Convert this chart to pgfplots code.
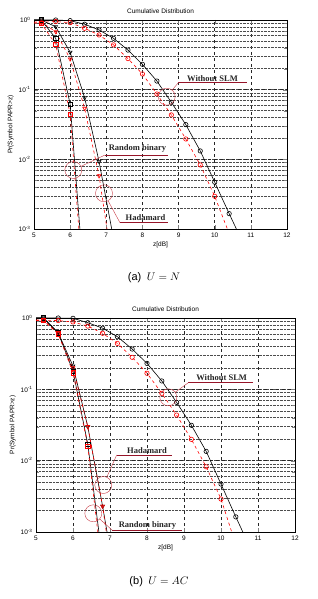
\documentclass[border=0pt]{standalone}
\usepackage{pgfplots}
\pgfplotsset{compat=1.18}
\usepackage{fontspec}
\setmainfont{Liberation Sans}
\newfontfamily\serifb{Liberation Serif}
\definecolor{annred}{RGB}{200,60,70}
\definecolor{ulred}{RGB}{150,20,40}
\tikzset{
  blkline/.style={black, solid, line width=0.6pt, mark size=2.2pt},
  redline/.style={red, dashed, line width=0.6pt, mark size=2.2pt},
}
\begin{document}
\begin{tikzpicture}
% ---------------- (a) U = N ----------------
\begin{axis}[width=253pt, height=209pt, scale only axis, at={(34pt,370pt)}, anchor=south west,
    ymode=log,
    xmin=5, xmax=12, ymin=1e-3, ymax=1,
    xtick={5,6,7,8,9,10,11,12},
    xticklabels={5,6,7,8,9,10,11,12},
    ytick={1e-3,1e-2,1e-1,1},
    yticklabels={{10\textsuperscript{-3}},{10\textsuperscript{-2}},{10\textsuperscript{-1}},{10\textsuperscript{0}}},
    grid=both,
    major grid style={dashed, black!85, line width=0.45pt},
    minor grid style={densely dotted, black!70, line width=0.45pt},
    tick align=inside,
    title={Cumulative Distribution},
    xlabel={z[dB]},
    ylabel={Pr(Symbol PAPR>z)},
    tick label style={font=\fontsize{6.5}{7}\selectfont},
    label style={font=\fontsize{6.5}{7}\selectfont},
    title style={font=\fontsize{6.5}{7}\selectfont, yshift=-3pt},
    xlabel style={yshift=2pt},
    ylabel style={yshift=-2pt}]
\addplot[blkline, mark=o, mark options={solid}, mark indices={2,3,4,5,6,7,8,9,10,11,12,13,14,15}] coordinates {
(5,1) (5.2,1) (5.6,1) (6.0,0.98) (6.4,0.87) (6.8,0.72) (7.2,0.546) (7.6,0.37) (8.0,0.231) (8.4,0.133) (8.8,0.066) (9.2,0.0315) (9.6,0.0132) (10.0,0.0047) (10.4,0.00166) (10.6,0.001)};
\addplot[redline, mark=o, mark options={solid}, mark indices={2,3,4,5,6,7,8,9,10,11,12,13,14}] coordinates {
(5,0.93) (5.2,0.93) (5.6,0.95) (6.0,0.915) (6.4,0.76) (6.8,0.61) (7.2,0.44) (7.6,0.279) (8.0,0.168) (8.4,0.0867) (8.8,0.0434) (9.2,0.0196) (9.6,0.0083) (10.0,0.00295) (10.35,0.001)};
\addplot[blkline, mark=triangle, mark options={solid, rotate=180}, mark indices={2,3,4,5,6}] coordinates {
(5,1) (5.2,1.0) (5.6,0.80) (6.0,0.344) (6.4,0.0768) (6.8,0.0093) (7.15,0.001)};
\addplot[redline, mark=triangle, mark options={solid, rotate=180}, mark indices={2,3,4,5,6}] coordinates {
(5,0.93) (5.2,0.93) (5.6,0.68) (6.0,0.276) (6.4,0.054) (6.8,0.0058) (7.02,0.001)};
\addplot[blkline, mark=square, mark options={solid}, mark indices={2,3,4}] coordinates {
(5,1) (5.2,1.0) (5.6,0.546) (6.0,0.062) (6.27,0.001)};
\addplot[redline, mark=square, mark options={solid}, mark indices={2,3,4}] coordinates {
(5,0.9) (5.2,0.9) (5.6,0.448) (6.0,0.0444) (6.24,0.001)};
\end{axis}
% ---------------- (b) U = AC ----------------
\begin{axis}[width=259pt, height=214pt, scale only axis, at={(36pt,67pt)}, anchor=south west,
    ymode=log,
    xmin=5, xmax=12, ymin=1e-3, ymax=1,
    xtick={5,6,7,8,9,10,11,12},
    xticklabels={5,6,7,8,9,10,11,12},
    ytick={1e-3,1e-2,1e-1,1},
    yticklabels={{10\textsuperscript{-3}},{10\textsuperscript{-2}},{10\textsuperscript{-1}},{10\textsuperscript{0}}},
    grid=both,
    major grid style={dashed, black!85, line width=0.45pt},
    minor grid style={densely dotted, black!70, line width=0.45pt},
    tick align=inside,
    title={Cumulative Distribution},
    xlabel={z[dB]},
    ylabel={Pr(Symbol PAPR>z)},
    tick label style={font=\fontsize{6.5}{7}\selectfont},
    label style={font=\fontsize{6.5}{7}\selectfont},
    title style={font=\fontsize{6.5}{7}\selectfont, yshift=-3pt},
    xlabel style={yshift=2pt},
    ylabel style={yshift=-2pt}]
\addplot[blkline, mark=o, mark options={solid}, mark indices={2,3,4,5,6,7,8,9,10,11,12,13,14,15}] coordinates {
(5,1) (5.2,1) (5.6,1) (6.0,0.99) (6.4,0.86) (6.8,0.72) (7.2,0.547) (7.6,0.367) (8.0,0.231) (8.4,0.131) (8.8,0.0657) (9.2,0.0313) (9.6,0.0135) (10.0,0.0047) (10.4,0.00163) (10.59,0.001)};
\addplot[redline, mark=o, mark options={solid}, mark indices={2,3,4,5,6,7,8,9,10,11,12,13,14}] coordinates {
(5,0.93) (5.2,0.93) (5.6,0.92) (6.0,0.88) (6.4,0.77) (6.8,0.61) (7.2,0.44) (7.6,0.281) (8.0,0.168) (8.4,0.0879) (8.8,0.0436) (9.2,0.0199) (9.6,0.0082) (10.0,0.0029) (10.29,0.001)};
\addplot[blkline, mark=triangle, mark options={solid, rotate=180}, mark indices={2,3,4,5,6}] coordinates {
(5,1) (5.2,1.0) (5.6,0.62) (6.0,0.212) (6.4,0.03) (6.8,0.0023) (6.92,0.001)};
\addplot[redline, mark=triangle, mark options={solid, rotate=180}, mark indices={2,3,4,5,6}] coordinates {
(5,0.93) (5.2,0.93) (5.6,0.6) (6.0,0.2) (6.4,0.03) (6.8,0.0023) (6.9,0.001)};
\addplot[blkline, mark=square, mark options={solid}, mark indices={2,3,4,5}] coordinates {
(5,1) (5.2,1.0) (5.6,0.62) (6.0,0.18) (6.4,0.017) (6.7,0.001)};
\addplot[redline, mark=square, mark options={solid}, mark indices={2,3,4,5}] coordinates {
(5,0.93) (5.2,0.93) (5.6,0.6) (6.0,0.171) (6.4,0.016) (6.67,0.001)};
\end{axis}
% ---------------- annotations ----------------
\begin{scope}[x=1pt,y=1pt]
\useasboundingbox (0,0) rectangle (317,599);
\tikzset{ann/.style={font=\serifb\bfseries\fontsize{8.5}{9}\selectfont, text=black!85, inner sep=0pt},
         callout/.style={draw=annred, line width=0.4pt, circle, minimum size=17pt, inner sep=0pt}}
% (a)
\node[ann] at (212.5,520.7) {Without SLM};
\draw[ulred, line width=0.6pt] (178.3,516.3) -- (246.7,516.3);
\node[callout] (ca1) at (166.7,502.3) {};
\draw[annred, line width=0.4pt] (178.3,516.3) -- (ca1);
\node[ann] at (137.5,450.7) {Random binary};
\draw[ulred, line width=0.6pt] (105,444) -- (168,444);
\node[callout] (ca2) at (73.3,429) {};
\draw[annred, line width=0.4pt] (105,444) -- (ca2);
\node[ann] at (145.5,381.7) {Hadamard};
\draw[ulred, line width=0.6pt] (120,376.3) -- (168,376.3);
\node[callout] (ca3) at (104,405.7) {};
\draw[annred, line width=0.4pt] (120,376.3) -- (ca3);
% (b)
\node[ann] at (221.7,221.7) {Without SLM};
\draw[ulred, line width=0.6pt] (188.3,216.3) -- (253.3,216.3);
\node[callout] (cb1) at (168.3,201.7) {};
\draw[annred, line width=0.4pt] (188.3,216.3) -- (cb1);
\node[ann] at (147,148.3) {Hadamard};
\draw[ulred, line width=0.6pt] (116.7,144) -- (172,144);
\node[callout] (cb2) at (103.3,114) {};
\draw[annred, line width=0.4pt] (116.7,144) -- (cb2);
\node[ann] at (147.5,74) {Random binary};
\draw[ulred, line width=0.6pt] (112,69) -- (182,69);
\node[callout] (cb3) at (93.3,85.7) {};
\draw[annred, line width=0.4pt] (112,69) -- (cb3);
% captions
\node[font=\fontsize{11}{13}\selectfont] at (154,321) {(a)\enspace $U = N$};
\node[font=\fontsize{11}{13}\selectfont] at (159,17) {(b)\enspace $U = AC$};
\end{scope}
\end{tikzpicture}
\end{document}
